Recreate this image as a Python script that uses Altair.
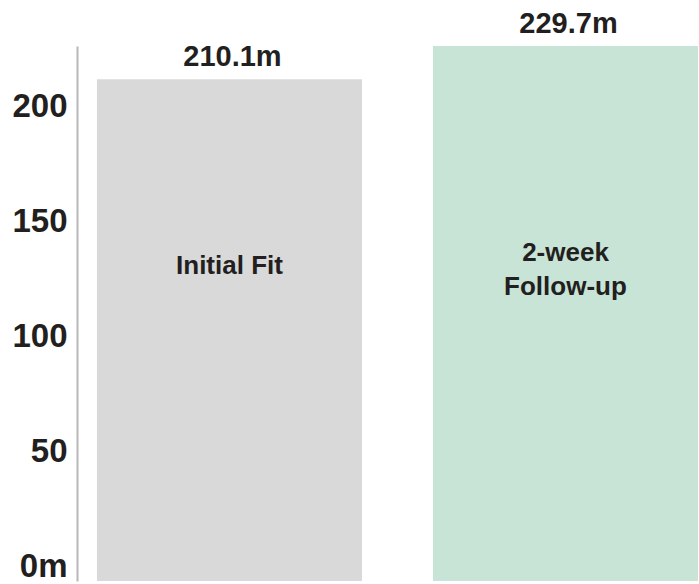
import altair as alt
import pandas as pd

categories = ["Initial Fit", "2-week Follow-up"]
values = [210.1, 229.7]
inner_labels = ["Initial Fit", "2-week\nFollow-up"]
value_labels = ["210.1m", "229.7m"]
bar_colors = ["#d9d9d9", "#c7e4d7"]
tick_values = [0, 50, 100, 150, 200]

df = pd.DataFrame({
    "category": categories,
    "value": values,
    "inner": inner_labels,
    "vlabel": value_labels,
})

FONT = "Liberation Sans"
TEXT = "#231f20"

x_enc = alt.X(
    "category:N",
    sort=categories,
    axis=None,
    scale=alt.Scale(paddingInner=0.2113, paddingOuter=0.0312, align=0.952),
)
y_scale = alt.Scale(domain=[0, 224], nice=False, clamp=True, zero=True)

bars = alt.Chart(df).mark_bar().encode(
    x=x_enc,
    y=alt.Y(
        "value:Q",
        scale=y_scale,
        axis=alt.Axis(
            values=tick_values,
            title=None,
            grid=False,
            ticks=False,
            domain=True,
            domainColor="#b8b8b8",
            domainWidth=2,
            labelFont=FONT,
            labelFontSize=33,
            labelFontWeight="bold",
            labelColor=TEXT,
            labelPadding=10,
            labelOffset={"expr": "-15 + 0.09*datum.value"},
            labelExpr="datum.value === 0 ? '0m' : datum.label",
        ),
    ),
    color=alt.Color("category:N", sort=categories,
                    scale=alt.Scale(domain=categories, range=bar_colors),
                    legend=None),
)

top_text = alt.Chart(df).mark_text(
    font=FONT, fontSize=29, fontWeight="bold", color=TEXT,
    baseline="middle", align="center", dy=-22, dx=3,
).encode(
    x=x_enc,
    y=alt.Y("value:Q", scale=y_scale),
    text="vlabel:N",
)

inner_single = alt.Chart(df).transform_filter(
    "indexof(datum.inner, '\\n') < 0"
).mark_text(
    font=FONT, fontSize=26, fontWeight="bold", color=TEXT,
    baseline="middle", align="center", lineBreak="\n", lineHeight=34,
).encode(
    x=x_enc,
    y=alt.datum(132),
    text="inner:N",
)

inner_multi = alt.Chart(df).transform_filter(
    "indexof(datum.inner, '\\n') >= 0"
).mark_text(
    font=FONT, fontSize=26, fontWeight="bold", color=TEXT,
    baseline="middle", align="center", lineBreak="\n", lineHeight=34,
    dy=-13,
).encode(
    x=x_enc,
    y=alt.datum(132),
    text="inner:N",
)

chart = alt.layer(bars, top_text, inner_single, inner_multi).properties(
    width=622,
    height=535,
    autosize=alt.AutoSizeParams(type="none"),
    padding={"left": 77, "top": 46, "right": 0, "bottom": 3},
    background="white",
).configure_view(stroke=None)

chart.save("out.html", embed_options={"renderer": "svg", "actions": False})
